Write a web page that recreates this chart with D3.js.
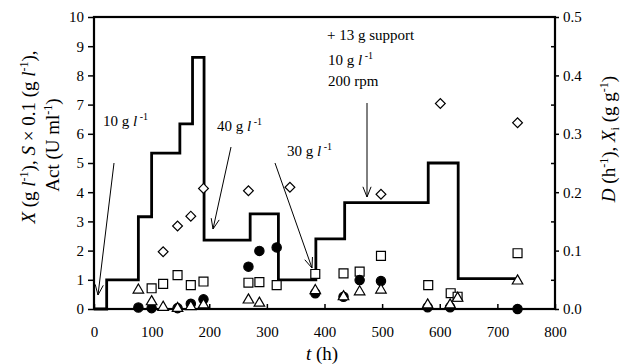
<!DOCTYPE html>
<html lang="en">
<head>
<meta charset="utf-8">
<title>Continuous culture</title>
<script src="https://d3js.org/d3.v7.min.js"></script>
<style>
  body { margin: 0; background: #fff; }
</style>
</head>
<body>
<div id="vis"></div>
<script>
// Data
var stepTimes = [0, 22, 77, 100, 149, 171, 191, 271, 320, 385, 435, 580, 632, 737];
var stepD = [0, 0.05, 0.158, 0.267, 0.317, 0.431, 0.118, 0.163, 0.05, 0.12, 0.182, 0.25, 0.052, 0.052];

var actT = [120, 145, 168, 190, 268, 340, 498, 601, 735];
var actV = [1.96, 2.84, 3.18, 4.13, 4.05, 4.17, 3.93, 7.04, 6.38];

var sqT = [100, 120, 145, 168, 190, 268, 287, 317, 384, 433, 461, 498, 580, 619, 631, 735];
var sqV = [0.71, 0.86, 1.16, 0.82, 0.94, 0.90, 0.92, 0.82, 1.20, 1.22, 1.28, 1.82, 0.82, 0.54, 0.42, 1.91];

var dotT = [77, 100, 145, 168, 190, 268, 287, 317, 384, 433, 461, 498, 579, 618, 735];
var dotV = [0.05, 0.03, 0.03, 0.18, 0.33, 1.45, 1.99, 2.11, 0.54, 0.42, 0.99, 0.96, 0.06, 0.06, 0.0];

var triT = [77, 100, 120, 145, 168, 190, 268, 287, 384, 433, 461, 498, 579, 618, 631, 735];
var triV = [0.65, 0.25, 0.06, 0.02, 0.08, 0.14, 0.31, 0.2, 0.63, 0.42, 0.59, 0.65, 0.14, 0.14, 0.37, 0.96];

var xTicks = [0, 100, 200, 300, 400, 500, 600, 700, 800];
var yLeftTicks = [0, 1, 2, 3, 4, 5, 6, 7, 8, 9, 10];
var yRightTicks = [0, 0.1, 0.2, 0.3, 0.4, 0.5];

// Setup
var serif = "'Liberation Serif', 'Times New Roman', Times, serif";
var width = 623, height = 364;
var svg = d3.select("#vis").append("svg").attr("width", width).attr("height", height)
  .style("font-family", serif);

var x = d3.scaleLinear().domain([0, 800]).range([94, 555]);
var yL = d3.scaleLinear().domain([0, 10]).range([309, 17]);
var yR = d3.scaleLinear().domain([0, 0.5]).range([309, 17]);

// Axes
var gx = svg.append("g").attr("transform", "translate(0," + yL(0) + ")")
  .call(d3.axisBottom(x).tickValues(xTicks).tickSize(-5).tickPadding(17).tickFormat(d3.format("d")));
var gl = svg.append("g").attr("transform", "translate(" + x(0) + ",0)")
  .call(d3.axisLeft(yL).tickValues(yLeftTicks).tickSize(6).tickPadding(4).tickFormat(d3.format("d")));
var gr = svg.append("g").attr("transform", "translate(" + x(800) + ",0)")
  .call(d3.axisRight(yR).tickValues(yRightTicks).tickSize(4).tickPadding(4).tickFormat(d3.format(".1f")));
// minor ticks on right axis, pointing inward
svg.append("g").attr("transform", "translate(" + x(800) + ",0)")
  .call(d3.axisRight(yR).tickValues([0.05, 0.15, 0.25, 0.35, 0.45]).tickSize(-4).tickFormat(""))
  .select(".domain").remove();

[gx, gl, gr].forEach(function(g) {
  g.attr("font-family", serif).attr("font-size", 15);
  g.select(".domain").remove();
  g.selectAll(".tick text").attr("fill", "#000").style("font-family", serif);
});
svg.selectAll(".tick line").attr("stroke", "#000").attr("stroke-width", 1.5);

// Frame
svg.append("rect")
  .attr("x", x(0)).attr("y", yL(10))
  .attr("width", x(800) - x(0)).attr("height", yL(0) - yL(10))
  .attr("fill", "none").attr("stroke", "#000").attr("stroke-width", 2.2);

// Dilution rate step line
var stepData = stepTimes.map(function(t, i) { return { t: t, d: stepD[i] }; });
svg.append("path")
  .datum(stepData)
  .attr("fill", "none").attr("stroke", "#000").attr("stroke-width", 2.8)
  .attr("d", d3.line().curve(d3.curveStepAfter)
    .x(function(d) { return x(d.t); })
    .y(function(d) { return yR(d.d); }));

// Markers
function pts(ts, vs) { return ts.map(function(t, i) { return { t: t, v: vs[i] }; }); }

function drawMarkers(data, type, size, fill, rot) {
  svg.append("g").selectAll("path").data(data).enter().append("path")
    .attr("d", d3.symbol().type(type).size(size))
    .attr("transform", function(d) {
      return "translate(" + x(d.t) + "," + yL(d.v) + ")" + (rot ? " rotate(" + rot + ")" : "");
    })
    .attr("fill", fill).attr("stroke", "#000").attr("stroke-width", 1.2);
}

drawMarkers(pts(sqT, sqV), d3.symbolSquare, 80, "#fff");
drawMarkers(pts(dotT, dotV), d3.symbolCircle, 68, "#000");
drawMarkers(pts(triT, triV), d3.symbolTriangle, 48, "#fff");
drawMarkers(pts(actT, actV), d3.symbolSquare, 48, "#fff", 45);

// Annotations
function arrow(x1, y1, x2, y2) {
  svg.append("line").attr("x1", x1).attr("y1", y1).attr("x2", x2).attr("y2", y2)
    .attr("stroke", "#000").attr("stroke-width", 1);
  var a = Math.atan2(y2 - y1, x2 - x1), len = 11, spread = 0.38;
  [a + Math.PI - spread, a + Math.PI + spread].forEach(function(b) {
    svg.append("line").attr("x1", x2).attr("y1", y2)
      .attr("x2", x2 + len * Math.cos(b)).attr("y2", y2 + len * Math.sin(b))
      .attr("stroke", "#000").attr("stroke-width", 1);
  });
}

function label(px, py) {
  return svg.append("text").attr("x", px).attr("y", py)
    .style("font-family", serif).style("font-size", "15px");
}

function concLabel(px, py, num) {
  var t = label(px, py);
  t.append("tspan").text(num + " g ");
  t.append("tspan").style("font-style", "italic").text("l");
  t.append("tspan").attr("dy", -6).style("font-size", "10px").text(" -1");
}

concLabel(103, 126, "10");
arrow(114, 163, 98, 295);
concLabel(217, 131, "40");
arrow(231, 147, 213, 229);
concLabel(287, 156, "30");
arrow(275, 163, 312, 268);

label(327, 40).text("+ 13 g support");
concLabel(328, 65, "10");
label(328, 86).text("200 rpm");
arrow(367, 103, 367, 197);

// Axis titles
function title(transform) {
  return svg.append("text").attr("transform", transform)
    .attr("text-anchor", "middle")
    .style("font-family", serif).style("font-size", "19px");
}

var yt1 = title("translate(35,137) rotate(-90)");
yt1.append("tspan").style("font-style", "italic").text("X");
yt1.append("tspan").text(" (g ");
yt1.append("tspan").style("font-style", "italic").text("l");
yt1.append("tspan").attr("dy", -7).style("font-size", "12px").text("-1");
yt1.append("tspan").attr("dy", 7).text("), ");
yt1.append("tspan").style("font-style", "italic").text("S");
yt1.append("tspan").text(" \u00d7 0.1 (g ");
yt1.append("tspan").style("font-style", "italic").text("l");
yt1.append("tspan").attr("dy", -7).style("font-size", "12px").text("-1");
yt1.append("tspan").attr("dy", 7).text("),");

var yt2 = title("translate(59,145) rotate(-90)");
yt2.append("tspan").text("Act (U ml");
yt2.append("tspan").attr("dy", -7).style("font-size", "12px").text("-1");
yt2.append("tspan").attr("dy", 7).text(")");

var yt3 = title("translate(615,139) rotate(-90)");
yt3.append("tspan").style("font-style", "italic").text("D");
yt3.append("tspan").text(" (h");
yt3.append("tspan").attr("dy", -7).style("font-size", "12px").text("-1");
yt3.append("tspan").attr("dy", 7).text("), ");
yt3.append("tspan").style("font-style", "italic").text("X");
yt3.append("tspan").attr("dy", 4).style("font-size", "12px").text("i");
yt3.append("tspan").attr("dy", -4).text(" (g g");
yt3.append("tspan").attr("dy", -7).style("font-size", "12px").text("-1");
yt3.append("tspan").attr("dy", 7).text(")");

var xt = title(null).attr("x", 322).attr("y", 360);
xt.append("tspan").style("font-style", "italic").text("t");
xt.append("tspan").text(" (h)");
</script>
</body>
</html>
